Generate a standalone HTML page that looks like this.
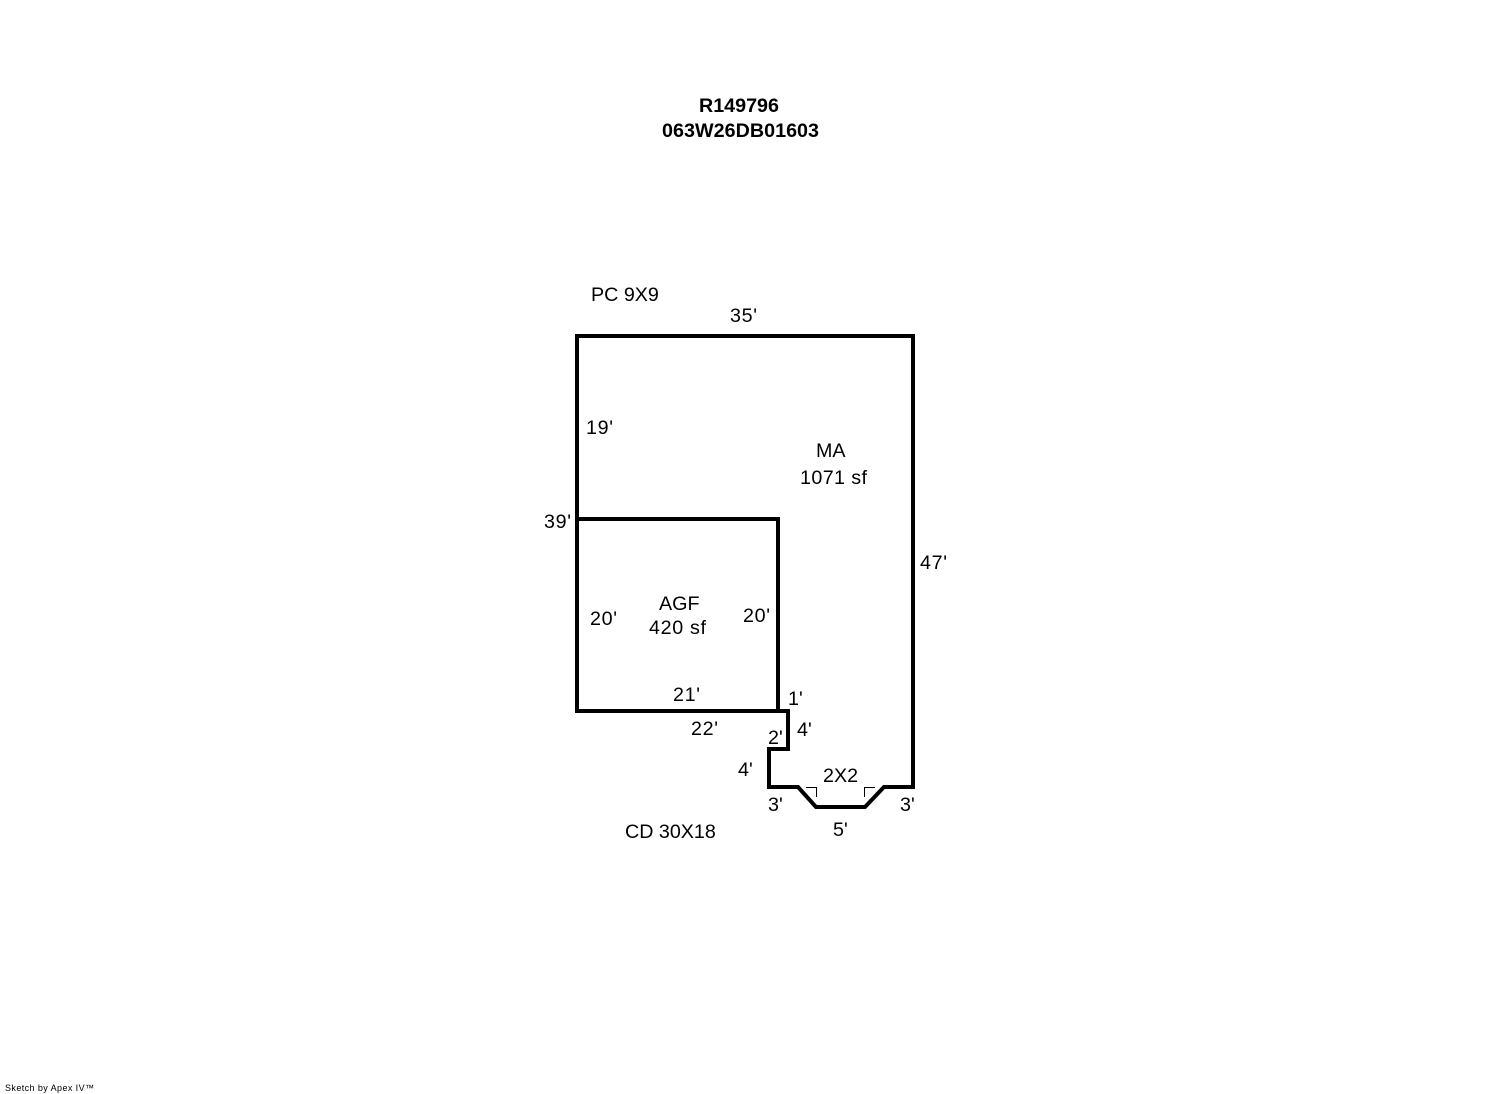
<!DOCTYPE html>
<html><head><meta charset="utf-8"><style>
html,body{margin:0;padding:0;background:#fff}
svg{display:block}
text{font-family:"Liberation Sans",Arial,sans-serif;font-size:19.7px;fill:#000;text-anchor:start}
</style></head><body>
<svg width="1492" height="1094" viewBox="0 0 1492 1094" xmlns="http://www.w3.org/2000/svg">
<rect width="1492" height="1094" fill="#fff"/>
<g fill="none" stroke="#000" stroke-width="4" stroke-linejoin="miter" stroke-linecap="square">
<path d="M577 336H913V787H884L865 807H816L798 787H769V749H788V711H577Z"/>
<path d="M577 519H778V711"/>
</g>
<g fill="none" stroke="#000" stroke-width="1">
<path d="M806 787.5H816.5V797"/>
<path d="M864.5 797V787.5H875"/>
</g>
<text x="699" y="112" style="font-weight:bold">R149796</text>
<text x="662" y="137" style="font-weight:bold" textLength="157">063W26DB01603</text>
<text x="591" y="301">PC 9X9</text>
<text x="730" y="322" textLength="27">35'</text>
<text x="586" y="434" textLength="27">19'</text>
<text x="816" y="457">MA</text>
<text x="800" y="484" textLength="67">1071 sf</text>
<text x="544" y="528" textLength="27">39'</text>
<text x="920" y="569" textLength="27">47'</text>
<text x="659" y="610">AGF</text>
<text x="649" y="634" textLength="57">420 sf</text>
<text x="590" y="625" textLength="27">20'</text>
<text x="743" y="622" textLength="27">20'</text>
<text x="673" y="701" textLength="27">21'</text>
<text x="788" y="705">1'</text>
<text x="691" y="735" textLength="27">22'</text>
<text x="797" y="736">4'</text>
<text x="768" y="744">2'</text>
<text x="738" y="776">4'</text>
<text x="823" y="782">2X2</text>
<text x="768" y="811">3'</text>
<text x="900" y="811">3'</text>
<text x="833" y="836">5'</text>
<text x="625" y="838">CD 30X18</text>
<text x="5" y="1091" style="font-size:9px" textLength="89">Sketch by Apex IV™</text>
</svg>
</body></html>
